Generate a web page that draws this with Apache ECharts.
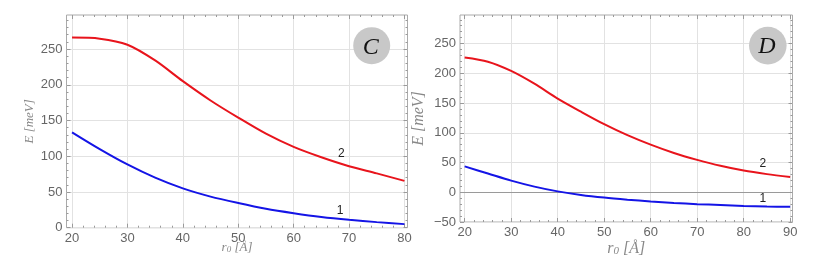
<!DOCTYPE html>
<html><head><meta charset="utf-8">
<script src="https://cdn.jsdelivr.net/npm/echarts@6/dist/echarts.min.js"></script>
<style>html,body{margin:0;padding:0;background:#fff}#c{width:817px;height:270px}</style>
</head><body><div id="c"></div>
<script>
// ---- data ----
const rC = [20,25,30,35,40,45,50,55,60,65,70,75,80];
const c2 = [266,264.5,256,234,205,178,154,131.5,113,98.5,86,76,65.5];
const c1 = [133.5,110,88.5,70,55,43.5,34.5,26.5,20.3,15,11,7.8,5];
const rD = [20,25,30,35,40,45,50,55,60,65,70,75,80,85,90];
const d2 = [226.5,219.5,204,182.5,157.5,135.5,114.5,96,80,66,54.5,44.5,36.5,30.5,25.5];
const d1 = [43.5,31.5,19.5,9.5,1.5,-4.5,-9,-12.5,-15.5,-18,-20,-21.5,-23,-24,-24.5];
const xTicksC = [20,30,40,50,60,70,80];
const yTicksC = [0,50,100,150,200,250];
const xTicksD = [20,30,40,50,60,70,80,90];
const yTicksD = [-50,0,50,100,150,200,250];
const curveLabels = ['1','2'];
const panelLetters = ['C','D'];

function minorsOf(majors, step, min, max){
  const out=[]; const lo=Math.ceil(min/step)*step;
  for(let v=lo; v<=max+1e-9; v+=step){
    const r=Math.round(v*1000)/1000;
    if(majors.indexOf(r)<0) out.push(r);
  }
  return out;
}
const tickColor='#9a9a9a';
function axes(dim, grid, min, max, majors, step, name, nameStyle, nameGap){
  const minors = minorsOf(majors, step, min, max);
  const pos = dim==='x' ? ['bottom','top'] : ['left','right'];
  const base = {type:'value', gridIndex:grid, min:min, max:max,
    axisLine:{show:false, onZero:false}, splitLine:{show:false}, axisLabel:{show:false}};
  const tick=(vals,len)=>({show:true, inside:true, length:len, customValues:vals, lineStyle:{color:tickColor,width:1}});
  const main = Object.assign({}, base, {position:pos[0], name:name, nameLocation:'middle', nameGap:nameGap,
    nameMoveOverlap:false,
    nameTextStyle:nameStyle,
    axisTick:tick(majors,4),
    axisLabel:{show:true, customValues:majors, margin:4, color:'#666', fontSize:13, fontFamily:'Liberation Sans',
      formatter:v=>String(v).replace('-','\u2212')},
    splitLine:{show:true, lineStyle:{color:'#e2e2e2', width:1}}});
  return [main,
    Object.assign({}, base, {position:pos[0], axisTick:tick(minors,2)}),
    Object.assign({}, base, {position:pos[1], axisTick:tick(majors,4)}),
    Object.assign({}, base, {position:pos[1], axisTick:tick(minors,2)})];
}
function xName(fs){
  return {rich:{
    i:{fontFamily:'Liberation Serif', fontStyle:'italic', fontSize:fs, color:'#888'},
    s:{fontFamily:'Liberation Serif', fontStyle:'italic', fontSize:Math.round(fs*0.7), color:'#888', padding:[4,0,0,0]}
  }};
}
function yNameStyle(fs){ return {fontFamily:'Liberation Serif', fontStyle:'italic', fontSize:fs, color:'#888'}; }
const xTitle='{i|r}{s|0}{i| [Å]}';
const yTitle='E [meV]';

const xAxes = [].concat(
  axes('x',0,19.0,80.55,xTicksC,2,xTitle,xName(13),13),
  axes('x',1,19.0,90.5,xTicksD,2,xTitle,xName(16),19));
const yAxes = [].concat(
  axes('y',0,0,297.6,yTicksC,10,yTitle,yNameStyle(13),30),
  axes('y',1,-50,298,yTicksD,10,yTitle,yNameStyle(16),33));

function zip(xs,ys){return xs.map((x,i)=>[x,ys[i]]);}
function lbl(coord,text){
  return {coord:coord, value:text, symbol:'circle', symbolSize:1, itemStyle:{color:'rgba(0,0,0,0)'},
    label:{show:true, position:'inside', formatter:text, color:'#222', fontSize:12, fontFamily:'Liberation Sans'}};
}
const RED='#e8141c', BLUE='#1414e6';
function line(data, color, xi, yi, extra){
  return Object.assign({type:'line', data:data, xAxisIndex:xi, yAxisIndex:yi, showSymbol:false, smooth:0.3,
    lineStyle:{color:color, width:2}, itemStyle:{color:color}, silent:true, animation:false, z:5}, extra||{});
}
const series = [
  line(zip(rC,c2),RED,0,0,{markPoint:{animation:false, data:[lbl([68.6,103],curveLabels[1])]}}),
  line(zip(rC,c1),BLUE,0,0,{markPoint:{animation:false, data:[lbl([68.4,23.4],curveLabels[0])]}}),
  line(zip(rD,d2),RED,4,4,{markPoint:{animation:false, data:[lbl([84.1,48.7],curveLabels[1])]}}),
  line(zip(rD,d1),BLUE,4,4,{markPoint:{animation:false, data:[lbl([84.1,-10.1],curveLabels[0])]}})
];
series[3].markLine = {silent:true, animation:false, symbol:'none', label:{show:false},
  lineStyle:{color:'#9a9a9a', type:'solid', width:1}, data:[{yAxis:0}]};

function badge(cx,cy,r,letter){
  return [
    {type:'circle', shape:{cx:cx, cy:cy, r:r}, style:{fill:'#c8c8c8'}, z:10},
    {type:'text', x:cx-1, y:cy+1.5, style:{text:letter, font:'italic 24px "Liberation Serif"', fill:'#111',
      align:'center', verticalAlign:'middle'}, z:11}
  ];
}

const chart = echarts.init(document.getElementById('c'), null, {renderer:'canvas'});
chart.setOption({
  animation:false,
  backgroundColor:'#fff',
  grid:[
    {left:66.5, top:15, width:341, height:212.7, show:true, borderColor:'#aaa', borderWidth:1, backgroundColor:'transparent'},
    {left:460, top:15, width:332.5, height:207, show:true, borderColor:'#aaa', borderWidth:1, backgroundColor:'transparent'}
  ],
  xAxis:xAxes, yAxis:yAxes, series:series,
  graphic:[].concat(badge(371.7,45.7,18.5,panelLetters[0]), badge(767.8,45.6,18.8,panelLetters[1]))
});
</script></body></html>
